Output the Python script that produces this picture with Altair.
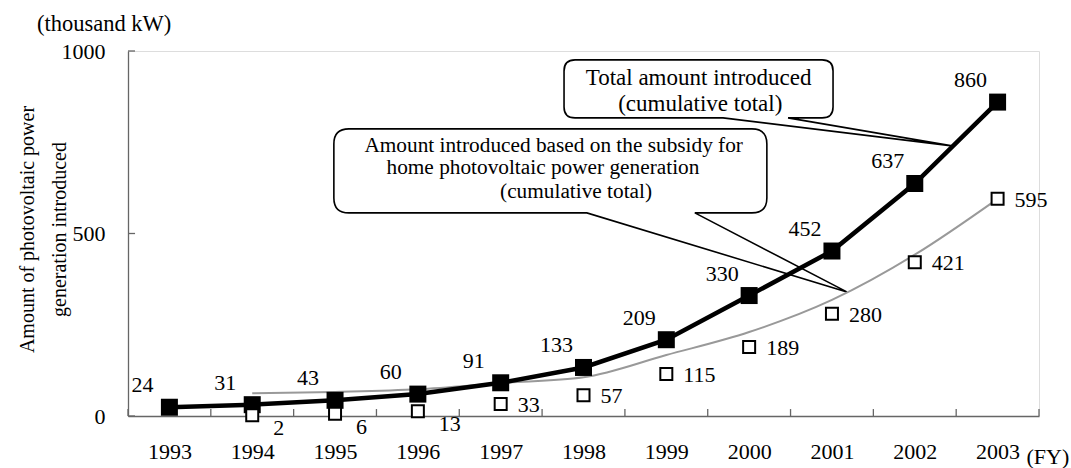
import altair as alt
import pandas as pd

# Cumulative photovoltaic capacity (thousand kW) by fiscal year
years = [1993, 1994, 1995, 1996, 1997, 1998, 1999, 2000, 2001, 2002, 2003]
total = [24, 31, 43, 60, 91, 133, 209, 330, 452, 637, 860]

subsidy_years = [1994, 1995, 1996, 1997, 1998, 1999, 2000, 2001, 2002, 2003]
subsidy = [2, 6, 13, 33, 57, 115, 189, 280, 421, 595]

# grey smoothed trend line of the subsidy series
trend = [62, 66, 73, 90, 106, 167, 230, 318, 442, 595]

# category boundaries (inner tick marks) and value ticks
x_bounds = [1992.5, 1993.5, 1994.5, 1995.5, 1996.5, 1997.5, 1998.5,
            1999.5, 2000.5, 2001.5, 2002.5, 2003.5]
y_values = [0, 500, 1000]

# callouts: pointer tip (data space) and text lines (data space)
callout_total_tip = (2002.45, 740)
callout_subsidy_tip = (2001.18, 340)
note1_text = ["Total amount introduced", "(cumulative total)"]
note1_x = [1999.39, 1999.41]
note1_y = [926, 855]
note2_text = ["Amount introduced based on the subsidy for",
              "home photovoltaic power generation",
              "(cumulative total)"]
note2_x = [1997.64, 1997.51, 1997.91]
note2_y = [740, 679, 614]

FONT = "Liberation Serif"
AXIS_GREY = "#666666"

total_df = pd.DataFrame({"x": years, "y": total})
sub_df = pd.DataFrame({"x": subsidy_years, "y": subsidy})
trend_df = pd.DataFrame({"x": subsidy_years, "y": trend})
xt_df = pd.DataFrame({"x": x_bounds, "y": [0] * len(x_bounds), "y2": [19] * len(x_bounds)})
yt_df = pd.DataFrame({"x": [x_bounds[0]] * 3, "x2": [x_bounds[0] + 0.085] * 3, "y": y_values})
notes1_df = pd.DataFrame({"x": note1_x, "y": note1_y, "t": note1_text})
notes2_df = pd.DataFrame({"x": note2_x, "y": note2_y, "t": note2_text})


def callout_path(left, right, top, bottom, base_a, base_b, r):
    """Rounded box with a wedge pointing at the origin (0, 0)."""
    return (
        f"M0,0 L{base_a},{bottom} L{left + r},{bottom} "
        f"Q{left},{bottom} {left},{bottom - r} L{left},{top + r} "
        f"Q{left},{top} {left + r},{top} L{right - r},{top} "
        f"Q{right},{top} {right},{top + r} L{right},{bottom - r} "
        f"Q{right},{bottom} {right - r},{bottom} L{base_b},{bottom} Z"
    )


X = alt.X(
    "x:Q",
    scale=alt.Scale(domain=[1992.5, 2003.5], nice=False, zero=False),
    axis=alt.Axis(
        values=years, format="d", ticks=False, tickSize=0, grid=False,
        labelFont=FONT, labelFontSize=22, labelColor="black", labelPadding=25,
        labelFlush=False, domainColor=AXIS_GREY, domainWidth=1.3,
        title="(FY)", titleFont=FONT, titleFontSize=22, titleFontWeight="normal",
        titleColor="black", titleX=898, titleY=47, titleAlign="left",
        titleBaseline="alphabetic", titleAnchor="start",
    ),
)
Y = alt.Y(
    "y:Q",
    scale=alt.Scale(domain=[0, 1000], nice=False),
    axis=alt.Axis(
        values=y_values, format="d", ticks=False, tickSize=0, grid=False,
        labelFont=FONT, labelFontSize=22, labelColor="black", labelPadding=23,
        domainColor=AXIS_GREY, domainWidth=1.3,
        title=["Amount of photovoltaic power", "generation introduced"],
        titleFont=FONT, titleFontSize=20, titleFontWeight="normal", titleColor="black",
        titleAngle=270, titleX=-95, titleY=178, titleAlign="center",
        titleBaseline="alphabetic", titleLineHeight=32,
    ),
)

x_ticks = alt.Chart(xt_df).mark_rule(color=AXIS_GREY, strokeWidth=1.3).encode(x=X, y=Y, y2="y2:Q")
y_ticks = alt.Chart(yt_df).mark_rule(color=AXIS_GREY, strokeWidth=1.3).encode(x=X, x2="x2:Q", y=Y)

bubble_total = alt.Chart(
    pd.DataFrame({"x": [callout_total_tip[0]], "y": [callout_total_tip[1]]})
).mark_point(
    shape=callout_path(-388, -119, -86, -28, -229, -164, 11),
    size=4, filled=True, fill="white", stroke="black", strokeWidth=1.6, opacity=1,
).encode(x=X, y=Y)

bubble_subsidy = alt.Chart(
    pd.DataFrame({"x": [callout_subsidy_tip[0]], "y": [callout_subsidy_tip[1]]})
).mark_point(
    shape=callout_path(-513, -80, -163, -79, -260, -152, 15),
    size=4, filled=True, fill="white", stroke="black", strokeWidth=1.6, opacity=1,
).encode(x=X, y=Y)

notes1 = alt.Chart(notes1_df).mark_text(
    font=FONT, fontSize=23, color="black", align="center", baseline="middle"
).encode(x=X, y=Y, text="t:N")
notes2 = alt.Chart(notes2_df).mark_text(
    font=FONT, fontSize=21.3, color="black", align="center", baseline="middle"
).encode(x=X, y=Y, text="t:N")

trend_line = alt.Chart(trend_df).mark_line(
    color="#999999", strokeWidth=2, interpolate="monotone"
).encode(x=X, y=Y)

total_line = alt.Chart(total_df).mark_line(color="black", strokeWidth=4.5).encode(x=X, y=Y)
total_pts = alt.Chart(total_df).mark_point(
    shape="square", size=289, filled=True, color="black", opacity=1
).encode(x=X, y=Y)
total_lbl = alt.Chart(total_df).mark_text(
    font=FONT, fontSize=22, color="black", align="center", baseline="middle", dx=-27, dy=-22
).encode(x=X, y=Y, text="y:Q")

sub_pts = alt.Chart(sub_df).mark_point(
    shape="square", size=144, filled=True, fill="white", stroke="black",
    strokeWidth=2, opacity=1
).encode(x=X, y=Y)
sub_lbl_low = alt.Chart(sub_df).transform_filter("datum.y < 20").mark_text(
    font=FONT, fontSize=22, color="black", align="left", baseline="middle", dx=21, dy=13
).encode(x=X, y=Y, text="y:Q")
sub_lbl_high = alt.Chart(sub_df).transform_filter("datum.y >= 20").mark_text(
    font=FONT, fontSize=22, color="black", align="left", baseline="middle", dx=17, dy=1
).encode(x=X, y=Y, text="y:Q")

chart = alt.layer(
    bubble_total, bubble_subsidy, notes1, notes2,
    x_ticks, y_ticks,
    trend_line, total_line, total_pts, sub_pts,
    total_lbl, sub_lbl_low, sub_lbl_high,
).properties(
    width=911,
    height=365,
    autosize=alt.AutoSizeParams(type="none"),
    padding={"left": 128, "top": 51, "right": 32, "bottom": 52},
    title=alt.TitleParams(
        "(thousand kW)", anchor="start", frame="group", orient="top", dx=-91, dy=25,
        font=FONT, fontSize=22.5, fontWeight="normal", color="black",
        baseline="alphabetic", offset=12,
    ),
).configure_view(stroke=None).configure(background="white")

chart.save("out.html", embed_options={"renderer": "svg", "actions": False})
